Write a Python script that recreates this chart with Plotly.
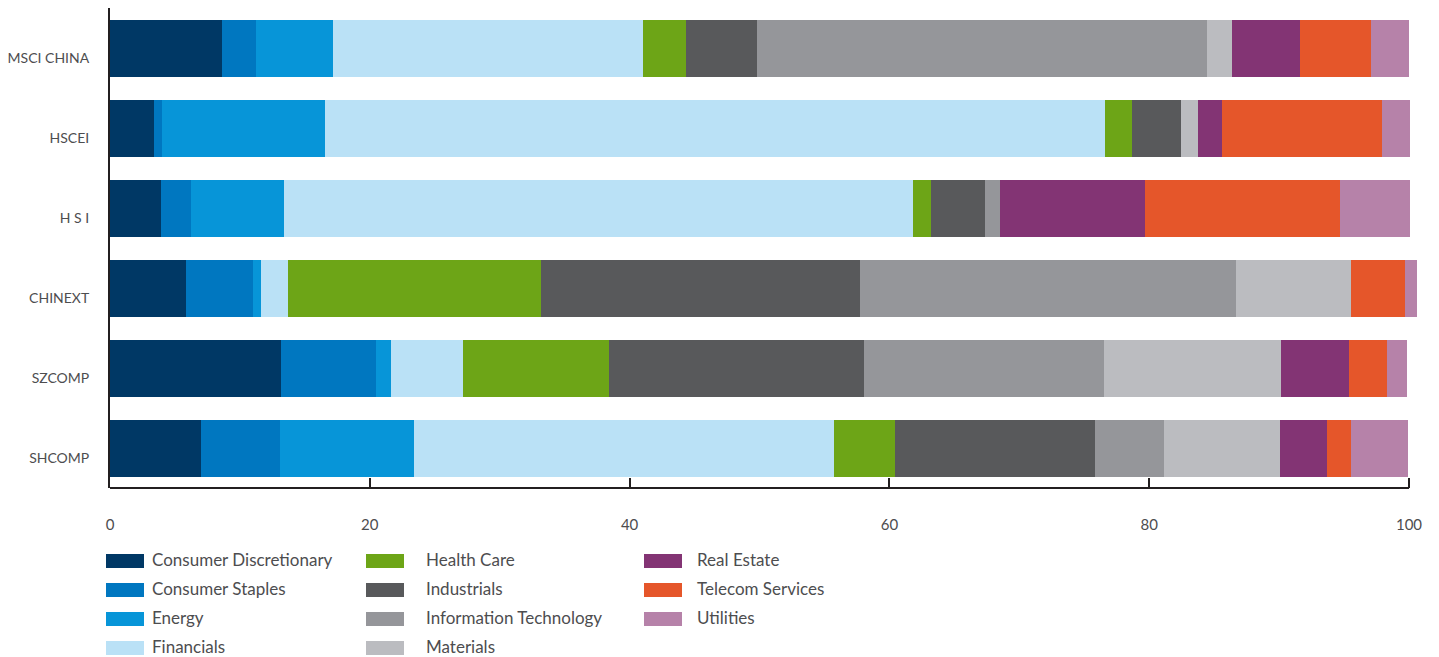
import plotly.graph_objects as go

indices = ["MSCI CHINA", "HSCEI", "H S I", "CHINEXT", "SZCOMP", "SHCOMP"]

sectors = ["Consumer Discretionary", "Consumer Staples", "Energy", "Financials",
           "Health Care", "Industrials", "Information Technology", "Materials",
           "Real Estate", "Telecom Services", "Utilities"]

colors = ["#003865", "#0077C0", "#0795D8", "#BAE1F6",
          "#6DA517", "#58595B", "#95969A", "#BBBCC0",
          "#833474", "#E5562A", "#B682A9"]

# weights (%) per sector, in index order above
consumer_discretionary = [8.61, 3.39, 3.94, 5.87, 13.15, 7.00]
consumer_staples       = [2.61, 0.62, 2.30, 5.15, 7.32, 6.08]
energy                 = [5.95, 12.54, 7.15, 0.62, 1.17, 10.31]
financials             = [23.85, 60.03, 48.43, 2.06, 5.53, 32.34]
health_care            = [3.34, 2.11, 1.38, 19.49, 11.24, 4.71]
industrials            = [5.45, 3.77, 4.17, 24.53, 19.63, 15.38]
information_technology = [34.65, 0.00, 1.16, 28.95, 18.47, 5.34]
materials              = [1.92, 1.31, 0.00, 8.86, 13.64, 8.92]
real_estate            = [5.23, 1.85, 11.14, 0.00, 5.23, 3.59]
telecom_services       = [5.47, 12.30, 15.01, 4.17, 2.94, 1.86]
utilities              = [2.90, 2.14, 5.37, 0.90, 1.52, 4.39]

series = [consumer_discretionary, consumer_staples, energy, financials,
          health_care, industrials, information_technology, materials,
          real_estate, telecom_services, utilities]

x_ticks = [0, 20, 40, 60, 80, 100]

FONT = "Lato"
TEXT = "#4D4D4F"
AXIS = "#231F20"

fig = go.Figure()
for name, vals, col in zip(sectors, series, colors):
    fig.add_trace(go.Bar(
        name=name, y=indices, x=vals, orientation="h",
        marker=dict(color=col, line=dict(width=0)),
        showlegend=False,
    ))

W, H = 1439, 657
ML, MR, MT, MB = 110, 1439 - 110 - 1312, 8, 169
plot_w = W - ML - MR
plot_h = H - MT - MB


def px_x(px):
    return (px - ML) / plot_w


def px_y(py):
    return (H - MB - py) / plot_h


# manual legend (3 columns x 4 rows)
col_swatch_x = [106, 366, 644]
col_text_x = [150, 424, 695]
row_y = [561, 590, 619, 648]
shapes = []
annotations = []
for i, (name, col) in enumerate(zip(sectors, colors)):
    c, r = divmod(i, 4)
    sx = col_swatch_x[c]
    cy = row_y[r]
    shapes.append(dict(type="rect", xref="paper", yref="paper",
                       x0=px_x(sx), x1=px_x(sx + 38),
                       y0=px_y(cy + 7), y1=px_y(cy - 7),
                       fillcolor=col, line=dict(width=0)))
    annotations.append(dict(xref="paper", yref="paper", x=px_x(col_text_x[c]),
                            y=px_y(cy - 1.5), text=name, showarrow=False,
                            xanchor="left", yanchor="middle",
                            font=dict(family=FONT, size=17, color=TEXT)))

# bottom axis line from 0 to 100
shapes.append(dict(type="line", xref="x", yref="paper", x0=0, x1=100, y0=0, y1=0,
                   line=dict(color=AXIS, width=2)))

fig.update_layout(
    width=W, height=H,
    margin=dict(l=ML, r=MR, t=MT, b=MB, autoexpand=False),
    barmode="stack",
    bargap=0.2875,
    plot_bgcolor="white", paper_bgcolor="white",
    font=dict(family=FONT, size=15, color=TEXT),
    xaxis=dict(range=[0, 101], tickvals=x_ticks, ticktext=[str(v) for v in x_ticks],
               showgrid=False, zeroline=False, showline=False,
               ticks="inside", ticklen=10, tickwidth=2, tickcolor=AXIS,
               ticklabelstandoff=26, automargin=False,
               tickfont=dict(family=FONT, size=15, color=TEXT)),
    yaxis=dict(autorange="reversed", showgrid=False, zeroline=False,
               showline=True, linecolor=AXIS, linewidth=2, ticks="",
               ticklabelstandoff=16, ticklabelshift=-10, automargin=False,
               tickfont=dict(family=FONT, size=14, color=TEXT)),
    shapes=shapes,
    annotations=annotations,
)

fig.write_html("out.html")
